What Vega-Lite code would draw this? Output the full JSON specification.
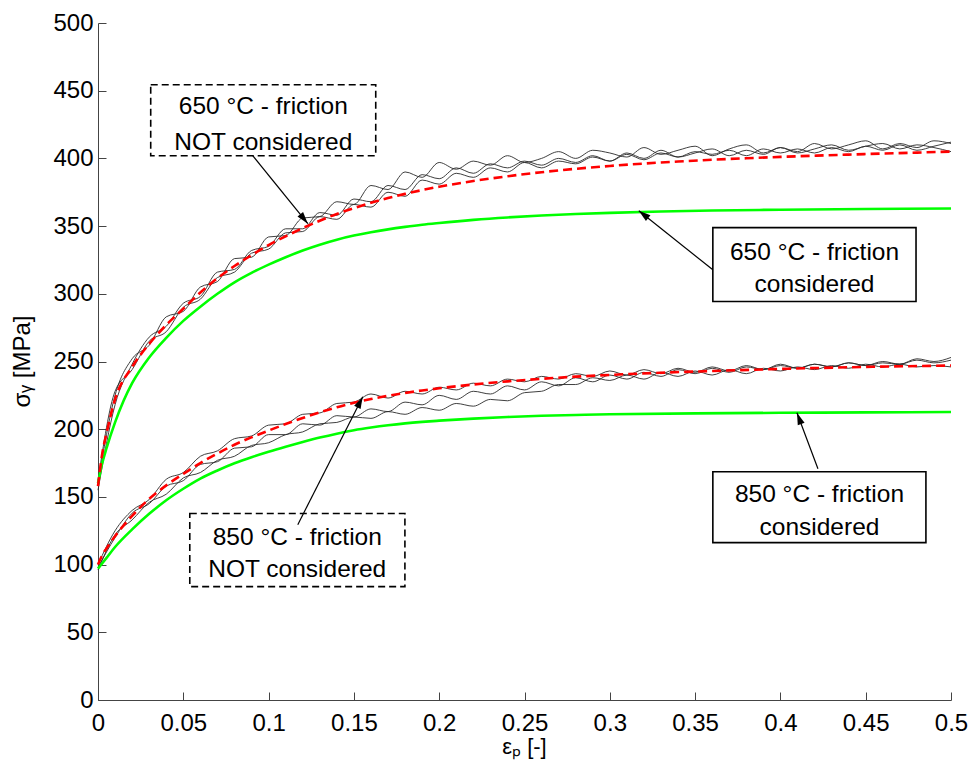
{
  "$schema": "https://vega.github.io/schema/vega-lite/v6.json",
  "width": 853,
  "height": 677,
  "autosize": {"type": "none"},
  "padding": {"left": 98, "top": 23, "right": 19, "bottom": 61},
  "background": "white",
  "config": {"view": {"stroke": null}, "font": "Liberation Sans"},
  "datasets": {
    "exp": [
      {"x":0,"a":160,"b":155,"c":162,"d":100,"e":98,"f":96},
      {"x":0.01,"a":225,"b":218,"c":228,"d":125,"e":120,"f":122},
      {"x":0.02,"a":252,"b":248,"c":244,"d":140,"e":138,"f":133},
      {"x":0.03,"a":262,"b":268,"c":265,"d":148,"e":145,"f":146},
      {"x":0.04,"a":283,"b":276,"c":272,"d":163,"e":158,"f":152},
      {"x":0.05,"a":287,"b":293,"c":290,"d":168,"e":162,"f":164},
      {"x":0.06,"a":305,"b":298,"c":296,"d":180,"e":174,"f":168},
      {"x":0.07,"a":309,"b":316,"c":312,"d":184,"e":176,"f":177},
      {"x":0.08,"a":326,"b":318,"c":316,"d":193,"e":186,"f":180},
      {"x":0.09,"a":327,"b":332,"c":330,"d":195,"e":187,"f":188},
      {"x":0.1,"a":342,"b":335,"c":333,"d":203,"e":196,"f":190},
      {"x":0.11,"a":343,"b":348,"c":345,"d":204,"e":196,"f":196},
      {"x":0.12,"a":356,"b":348,"c":346,"d":211,"e":204,"f":198},
      {"x":0.13,"a":357,"b":360,"c":357,"d":212,"e":203,"f":204},
      {"x":0.14,"a":368,"b":358,"c":355,"d":219,"e":210,"f":205},
      {"x":0.15,"a":366,"b":370,"c":366,"d":220,"e":209,"f":209},
      {"x":0.16,"a":380,"b":368,"c":364,"d":226,"e":215,"f":208},
      {"x":0.17,"a":377,"b":380,"c":375,"d":223,"e":213,"f":213},
      {"x":0.18,"a":390,"b":377,"c":372,"d":228,"e":220,"f":211},
      {"x":0.19,"a":386,"b":388,"c":384,"d":226,"e":218,"f":216},
      {"x":0.2,"a":397,"b":385,"c":381,"d":231,"e":225,"f":214},
      {"x":0.21,"a":392,"b":393,"c":389,"d":229,"e":222,"f":219},
      {"x":0.22,"a":398,"b":389,"c":386,"d":234,"e":228,"f":217},
      {"x":0.23,"a":395,"b":396,"c":393,"d":232,"e":226,"f":222},
      {"x":0.24,"a":402,"b":393,"c":390,"d":237,"e":232,"f":221},
      {"x":0.25,"a":397,"b":398,"c":397,"d":235,"e":229,"f":227},
      {"x":0.26,"a":400,"b":395,"c":393,"d":239,"e":235,"f":228},
      {"x":0.27,"a":405,"b":400,"c":398,"d":237,"e":232,"f":233},
      {"x":0.28,"a":400,"b":397,"c":396,"d":241,"e":238,"f":233},
      {"x":0.29,"a":406,"b":402,"c":401,"d":239,"e":235,"f":238},
      {"x":0.3,"a":404,"b":398,"c":398,"d":243,"e":240,"f":236},
      {"x":0.31,"a":401,"b":404,"c":403,"d":240,"e":237,"f":240},
      {"x":0.32,"a":408,"b":400,"c":399,"d":244,"e":242,"f":237},
      {"x":0.33,"a":403,"b":406,"c":404,"d":241,"e":239,"f":242},
      {"x":0.34,"a":406,"b":401,"c":401,"d":245,"e":244,"f":239},
      {"x":0.35,"a":409,"b":404,"c":405,"d":242,"e":241,"f":243},
      {"x":0.36,"a":402,"b":407,"c":403,"d":246,"e":245,"f":240},
      {"x":0.37,"a":407,"b":402,"c":406,"d":243,"e":242,"f":244},
      {"x":0.38,"a":410,"b":406,"c":402,"d":247,"e":246,"f":241},
      {"x":0.39,"a":404,"b":403,"c":407,"d":244,"e":244,"f":245},
      {"x":0.4,"a":408,"b":408,"c":404,"d":248,"e":247,"f":243},
      {"x":0.41,"a":405,"b":404,"c":407,"d":245,"e":245,"f":246},
      {"x":0.42,"a":411,"b":407,"c":404,"d":248,"e":248,"f":244},
      {"x":0.43,"a":407,"b":410,"c":408,"d":246,"e":246,"f":247},
      {"x":0.44,"a":410,"b":406,"c":405,"d":249,"e":249,"f":245},
      {"x":0.45,"a":413,"b":409,"c":409,"d":247,"e":247,"f":248},
      {"x":0.46,"a":407,"b":411,"c":406,"d":250,"e":249,"f":246},
      {"x":0.47,"a":411,"b":407,"c":410,"d":248,"e":248,"f":248},
      {"x":0.48,"a":408,"b":410,"c":406,"d":252,"e":251,"f":246},
      {"x":0.49,"a":413,"b":408,"c":409,"d":250,"e":249,"f":247},
      {"x":0.5,"a":411,"b":405,"c":412,"d":253,"e":251,"f":246}
    ],
    "fit": [
      {"s":"r650","x":0,"y":158},{"s":"r650","x":0.0025,"y":182},{"s":"r650","x":0.005,"y":197},{"s":"r650","x":0.01,"y":222},{"s":"r650","x":0.02,"y":246},{"s":"r650","x":0.03,"y":263},{"s":"r650","x":0.04,"y":277},{"s":"r650","x":0.05,"y":289},{"s":"r650","x":0.06,"y":301},{"s":"r650","x":0.07,"y":311.5},{"s":"r650","x":0.08,"y":320.5},{"s":"r650","x":0.09,"y":328.5},{"s":"r650","x":0.1,"y":336},{"s":"r650","x":0.11,"y":342.5},{"s":"r650","x":0.12,"y":348.5},{"s":"r650","x":0.13,"y":354},{"s":"r650","x":0.14,"y":359},{"s":"r650","x":0.15,"y":363.3},{"s":"r650","x":0.16,"y":367.2},{"s":"r650","x":0.17,"y":370.7},{"s":"r650","x":0.18,"y":373.8},{"s":"r650","x":0.19,"y":376.6},{"s":"r650","x":0.2,"y":379.1},{"s":"r650","x":0.22,"y":383.3},{"s":"r650","x":0.24,"y":386.8},{"s":"r650","x":0.26,"y":389.8},{"s":"r650","x":0.28,"y":392.3},{"s":"r650","x":0.3,"y":394.4},{"s":"r650","x":0.32,"y":396.2},{"s":"r650","x":0.34,"y":397.7},{"s":"r650","x":0.36,"y":399},{"s":"r650","x":0.38,"y":400.1},{"s":"r650","x":0.4,"y":401.1},{"s":"r650","x":0.42,"y":402},{"s":"r650","x":0.44,"y":402.8},{"s":"r650","x":0.46,"y":403.6},{"s":"r650","x":0.48,"y":404.3},{"s":"r650","x":0.5,"y":405},
      {"s":"g650","x":0,"y":160},{"s":"g650","x":0.0025,"y":175},{"s":"g650","x":0.005,"y":186},{"s":"g650","x":0.01,"y":205},{"s":"g650","x":0.015,"y":221},{"s":"g650","x":0.02,"y":234},{"s":"g650","x":0.03,"y":253},{"s":"g650","x":0.04,"y":267.5},{"s":"g650","x":0.05,"y":280},{"s":"g650","x":0.06,"y":290.5},{"s":"g650","x":0.07,"y":300},{"s":"g650","x":0.08,"y":308.5},{"s":"g650","x":0.09,"y":315.5},{"s":"g650","x":0.1,"y":321.5},{"s":"g650","x":0.11,"y":327},{"s":"g650","x":0.12,"y":332},{"s":"g650","x":0.13,"y":336.3},{"s":"g650","x":0.14,"y":340},{"s":"g650","x":0.15,"y":343},{"s":"g650","x":0.16,"y":345.5},{"s":"g650","x":0.17,"y":347.6},{"s":"g650","x":0.18,"y":349.4},{"s":"g650","x":0.19,"y":351},{"s":"g650","x":0.2,"y":352.3},{"s":"g650","x":0.22,"y":354.6},{"s":"g650","x":0.24,"y":356.4},{"s":"g650","x":0.26,"y":357.8},{"s":"g650","x":0.28,"y":358.9},{"s":"g650","x":0.3,"y":359.8},{"s":"g650","x":0.33,"y":360.8},{"s":"g650","x":0.36,"y":361.5},{"s":"g650","x":0.4,"y":362.1},{"s":"g650","x":0.45,"y":362.6},{"s":"g650","x":0.5,"y":363},
      {"s":"r850","x":0,"y":100},{"s":"r850","x":0.0025,"y":107},{"s":"r850","x":0.005,"y":112},{"s":"r850","x":0.01,"y":121},{"s":"r850","x":0.02,"y":136},{"s":"r850","x":0.03,"y":148.5},{"s":"r850","x":0.04,"y":158.5},{"s":"r850","x":0.05,"y":167},{"s":"r850","x":0.06,"y":175},{"s":"r850","x":0.07,"y":182},{"s":"r850","x":0.08,"y":188.5},{"s":"r850","x":0.09,"y":194},{"s":"r850","x":0.1,"y":199},{"s":"r850","x":0.11,"y":203.8},{"s":"r850","x":0.12,"y":208.3},{"s":"r850","x":0.13,"y":212.4},{"s":"r850","x":0.14,"y":216.2},{"s":"r850","x":0.15,"y":219.5},{"s":"r850","x":0.16,"y":222.3},{"s":"r850","x":0.17,"y":224.7},{"s":"r850","x":0.18,"y":226.8},{"s":"r850","x":0.19,"y":228.6},{"s":"r850","x":0.2,"y":230.2},{"s":"r850","x":0.22,"y":233},{"s":"r850","x":0.24,"y":235.3},{"s":"r850","x":0.26,"y":237.2},{"s":"r850","x":0.28,"y":238.8},{"s":"r850","x":0.3,"y":240.1},{"s":"r850","x":0.33,"y":241.7},{"s":"r850","x":0.36,"y":243},{"s":"r850","x":0.4,"y":244.5},{"s":"r850","x":0.45,"y":246},{"s":"r850","x":0.5,"y":247},
      {"s":"g850","x":0,"y":97},{"s":"g850","x":0.005,"y":105},{"s":"g850","x":0.01,"y":113},{"s":"g850","x":0.02,"y":126},{"s":"g850","x":0.03,"y":137.5},{"s":"g850","x":0.04,"y":147.5},{"s":"g850","x":0.05,"y":156},{"s":"g850","x":0.06,"y":163.5},{"s":"g850","x":0.07,"y":169.5},{"s":"g850","x":0.08,"y":174.8},{"s":"g850","x":0.09,"y":179.3},{"s":"g850","x":0.1,"y":183.3},{"s":"g850","x":0.11,"y":187},{"s":"g850","x":0.12,"y":190.5},{"s":"g850","x":0.13,"y":193.8},{"s":"g850","x":0.14,"y":196.7},{"s":"g850","x":0.15,"y":199.2},{"s":"g850","x":0.16,"y":201.2},{"s":"g850","x":0.17,"y":202.9},{"s":"g850","x":0.18,"y":204.3},{"s":"g850","x":0.19,"y":205.4},{"s":"g850","x":0.2,"y":206.3},{"s":"g850","x":0.22,"y":207.8},{"s":"g850","x":0.24,"y":209},{"s":"g850","x":0.26,"y":209.9},{"s":"g850","x":0.28,"y":210.5},{"s":"g850","x":0.3,"y":211},{"s":"g850","x":0.35,"y":211.7},{"s":"g850","x":0.4,"y":212.1},{"s":"g850","x":0.45,"y":212.4},{"s":"g850","x":0.5,"y":212.7}
    ],
    "boxes": [
      {"id":"b1","dash":"y","x":0.0309,"x2":0.1628,"y":454.4,"y2":402.0},
      {"id":"b2","dash":"n","x":0.3604,"x2":0.4795,"y":348.9,"y2":294.3},
      {"id":"b3","dash":"y","x":0.0538,"x2":0.1799,"y":137.7,"y2":83.7},
      {"id":"b4","dash":"n","x":0.3604,"x2":0.4853,"y":168.6,"y2":116.2}
    ],
    "labels": [
      {"x":0.0969,"y":438.2,"t":"650 °C - friction"},
      {"x":0.0969,"y":411.6,"t":"NOT considered"},
      {"x":0.420,"y":330.4,"t":"650 °C - friction"},
      {"x":0.420,"y":306.7,"t":"considered"},
      {"x":0.1168,"y":119.9,"t":"850 °C - friction"},
      {"x":0.1168,"y":96.2,"t":"NOT considered"},
      {"x":0.4229,"y":151.6,"t":"850 °C - friction"},
      {"x":0.4229,"y":127.3,"t":"considered"}
    ],
    "arrows": [
      {"x":0.0907,"y":402.0,"x2":0.1230,"y2":351.8},
      {"x":0.3604,"y":317.7,"x2":0.3170,"y2":361.4},
      {"x":0.1171,"y":129.5,"x2":0.1552,"y2":224.0},
      {"x":0.4220,"y":170.8,"x2":0.4097,"y2":212.2}
    ]
  },
  "layer": [
    {
      "data": {"name": "exp"},
      "transform": [{"fold": ["a","b","c","d","e","f"], "as": ["k","v"]}],
      "mark": {"type": "line", "stroke": "#2a2a2a", "strokeWidth": 0.9, "interpolate": "monotone"},
      "encoding": {
        "x": {"field": "x", "type": "quantitative",
          "scale": {"domain": [0, 0.5], "nice": false},
          "axis": {"title": "εₚ [-]", "values": [0,0.05,0.1,0.15,0.2,0.25,0.3,0.35,0.4,0.45,0.5],
            "format": ".2~f", "grid": false, "tickSize": -8, "labelPadding": 19, "labelFontSize": 24,
            "labelColor": "black", "labelFont": "Liberation Sans", "domainColor": "#444", "tickColor": "#444",
            "labelFlush": false, "labelOverlap": false,
            "titleFontSize": 22, "titleFontWeight": "normal", "titleColor": "black", "titleFont": "Liberation Sans",
            "titleX": 426, "titleY": 53, "titleBaseline": "alphabetic", "titleAlign": "center"}},
        "y": {"field": "v", "type": "quantitative",
          "scale": {"domain": [0, 500], "nice": false},
          "axis": {"title": "σᵧ [MPa]", "values": [0,50,100,150,200,250,300,350,400,450,500],
            "grid": false, "tickSize": -8, "labelPadding": 13, "labelFontSize": 24,
            "labelColor": "black", "labelFont": "Liberation Sans", "domainColor": "#444", "tickColor": "#444",
            "labelFlush": false, "labelOverlap": false,
            "titleFontSize": 24, "titleFontWeight": "normal", "titleColor": "black", "titleFont": "Liberation Sans",
            "titleX": -76, "titleY": 338, "titleAngle": 270, "titleAlign": "center", "titleBaseline": "middle"}},
        "detail": {"field": "k"}
      }
    },
    {
      "data": {"name": "fit"},
      "transform": [{"filter": "datum.s == 'g650' || datum.s == 'g850'"}],
      "mark": {"type": "line", "stroke": "#00ff00", "strokeWidth": 2.6, "interpolate": "monotone"},
      "encoding": {
        "x": {"field": "x", "type": "quantitative"},
        "y": {"field": "y", "type": "quantitative"},
        "detail": {"field": "s"}
      }
    },
    {
      "data": {"name": "fit"},
      "transform": [{"filter": "datum.s == 'r650' || datum.s == 'r850'"}],
      "mark": {"type": "line", "stroke": "#ff0000", "strokeWidth": 2.6, "strokeDash": [9, 5], "interpolate": "monotone"},
      "encoding": {
        "x": {"field": "x", "type": "quantitative"},
        "y": {"field": "y", "type": "quantitative"},
        "detail": {"field": "s"}
      }
    },
    {
      "data": {"name": "boxes"},
      "transform": [{"filter": "datum.dash == 'y'"}],
      "mark": {"type": "rect", "fill": "white", "stroke": "black", "strokeWidth": 1.6, "strokeDash": [7, 4]},
      "encoding": {
        "x": {"field": "x", "type": "quantitative"},
        "x2": {"field": "x2"},
        "y": {"field": "y", "type": "quantitative"},
        "y2": {"field": "y2"}
      }
    },
    {
      "data": {"name": "boxes"},
      "transform": [{"filter": "datum.dash == 'n'"}],
      "mark": {"type": "rect", "fill": "white", "stroke": "black", "strokeWidth": 1.6},
      "encoding": {
        "x": {"field": "x", "type": "quantitative"},
        "x2": {"field": "x2"},
        "y": {"field": "y", "type": "quantitative"},
        "y2": {"field": "y2"}
      }
    },
    {
      "data": {"name": "arrows"},
      "mark": {"type": "rule", "color": "black", "strokeWidth": 1.2},
      "encoding": {
        "x": {"field": "x", "type": "quantitative"},
        "x2": {"field": "x2"},
        "y": {"field": "y", "type": "quantitative"},
        "y2": {"field": "y2"}
      }
    },
    {
      "data": {"values": [{"x": 0.1230, "y": 351.8}]},
      "mark": {"type": "point", "shape": "M0,0L0.6,2L-0.6,2Z", "size": 144, "filled": true, "color": "black", "opacity": 1, "angle": 141},
      "encoding": {"x": {"field": "x", "type": "quantitative"}, "y": {"field": "y", "type": "quantitative"}}
    },
    {
      "data": {"values": [{"x": 0.3170, "y": 361.4}]},
      "mark": {"type": "point", "shape": "M0,0L0.6,2L-0.6,2Z", "size": 144, "filled": true, "color": "black", "opacity": 1, "angle": -51.4},
      "encoding": {"x": {"field": "x", "type": "quantitative"}, "y": {"field": "y", "type": "quantitative"}}
    },
    {
      "data": {"values": [{"x": 0.1552, "y": 224.0}]},
      "mark": {"type": "point", "shape": "M0,0L0.6,2L-0.6,2Z", "size": 144, "filled": true, "color": "black", "opacity": 1, "angle": 26.9},
      "encoding": {"x": {"field": "x", "type": "quantitative"}, "y": {"field": "y", "type": "quantitative"}}
    },
    {
      "data": {"values": [{"x": 0.4097, "y": 212.2}]},
      "mark": {"type": "point", "shape": "M0,0L0.6,2L-0.6,2Z", "size": 144, "filled": true, "color": "black", "opacity": 1, "angle": -20.6},
      "encoding": {"x": {"field": "x", "type": "quantitative"}, "y": {"field": "y", "type": "quantitative"}}
    },
    {
      "data": {"name": "labels"},
      "mark": {"type": "text", "font": "Liberation Sans", "fontSize": 24.5, "color": "black", "align": "center", "baseline": "middle"},
      "encoding": {
        "x": {"field": "x", "type": "quantitative"},
        "y": {"field": "y", "type": "quantitative"},
        "text": {"field": "t"}
      }
    }
  ]
}
